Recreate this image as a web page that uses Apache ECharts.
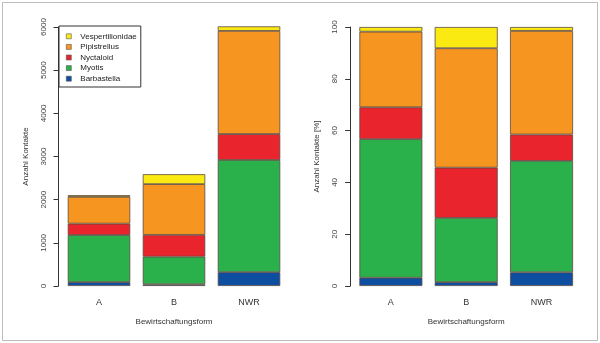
<!DOCTYPE html>
<html><head><meta charset="utf-8">
<script src="https://cdn.jsdelivr.net/npm/echarts@6/dist/echarts.min.js"></script>
<style>html,body{margin:0;padding:0;background:#fff}#c{width:600px;height:343px}</style>
</head><body><div id="c"></div>
<script>
var categories = ['A', 'B', 'NWR'];
var seriesNames = ['Barbastella', 'Myotis', 'Nyctaloid', 'Pipistrellus', 'Vespertilionidae'];
// counts (left panel)
var cntBarbastella = [90, 40, 320];
var cntMyotis = [1090, 640, 2600];
var cntNyctaloid = [265, 505, 600];
var cntPipistrellus = [620, 1175, 2390];
var cntVespertilionidae = [40, 230, 105];
// percentages (right panel)
var pctBarbastella = [3.2, 1.5, 5.3];
var pctMyotis = [53.5, 24.8, 43.0];
var pctNyctaloid = [12.3, 19.4, 10.2];
var pctPipistrellus = [29.2, 46.1, 40.0];
var pctVespertilionidae = [1.8, 8.2, 1.5];
var countTicks = [0, 1000, 2000, 3000, 4000, 5000, 6000];
var pctTicks = [0, 20, 40, 60, 80, 100];

var colors = ['#0d4ea1', '#2bb14c', '#e9242c', '#f6951f', '#fbe912'];
var cnt = [cntBarbastella, cntMyotis, cntNyctaloid, cntPipistrellus, cntVespertilionidae];
var pct = [pctBarbastella, pctMyotis, pctNyctaloid, pctPipistrellus, pctVespertilionidae];

var font = 'Liberation Sans, Arial, sans-serif';
function yAx(idx, ticks, name) {
  return {
    type: 'value', gridIndex: idx, min: ticks[0], max: ticks[ticks.length - 1],
    interval: ticks[1] - ticks[0], offset: 3,
    name: name, nameLocation: 'middle', nameGap: 29, nameRotate: 90,
    nameTextStyle: {fontSize: 8, color: '#333', fontFamily: font},
    axisLine: {show: true, lineStyle: {color: '#333', width: 1}},
    axisTick: {show: true, length: 5, lineStyle: {color: '#333', width: 1}},
    axisLabel: {rotate: 90, margin: 11, fontSize: 8, color: '#444', fontFamily: font,
      formatter: function (v) { return String(v); }},
    splitLine: {show: false}
  };
}
function xAx(idx) {
  return {
    type: 'category', gridIndex: idx, data: categories,
    name: 'Bewirtschaftungsform', nameLocation: 'middle', nameGap: 32,
    nameTextStyle: {fontSize: 8, color: '#333', fontFamily: font},
    axisLine: {show: false}, axisTick: {show: false},
    axisLabel: {margin: 12, fontSize: 9, color: '#333', fontFamily: font}
  };
}
var series = [];
for (var i = 0; i < seriesNames.length; i++) {
  series.push({name: seriesNames[i], type: 'bar', stack: 'cnt', xAxisIndex: 0, yAxisIndex: 0,
    data: cnt[i], barWidth: 62.5, clip: false,
    itemStyle: {color: colors[i], borderColor: '#5a4a40', borderWidth: 0.8}});
}
for (var j = 0; j < seriesNames.length; j++) {
  series.push({name: seriesNames[j], type: 'bar', stack: 'pct', xAxisIndex: 1, yAxisIndex: 1,
    data: pct[j], barWidth: 63, clip: false,
    itemStyle: {color: colors[j], borderColor: '#5a4a40', borderWidth: 0.8}});
}
var chart = echarts.init(document.getElementById('c'), null, {renderer: 'canvas'});
chart.setOption({
  animation: false,
  backgroundColor: '#fff',
  color: colors,
  grid: [
    {left: 61.5, width: 225, top: 27, bottom: 57, containLabel: false},
    {left: 353.2, width: 226, top: 27, bottom: 57, containLabel: false}
  ],
  xAxis: [xAx(0), xAx(1)],
  yAxis: [yAx(0, countTicks, 'Anzahl Kontakte'), yAx(1, pctTicks, 'Anzahl Kontakte [%]')],
  legend: {
    data: seriesNames.slice().reverse(),
    orient: 'vertical', left: 59, top: 26,
    padding: [5, 4, 3, 7], itemGap: 0, itemWidth: 5, itemHeight: 5,
    icon: 'rect',
    borderColor: '#333', borderWidth: 1, backgroundColor: '#fff',
    itemStyle: {borderColor: '#555', borderWidth: 0.6},
    textStyle: {fontSize: 8, color: '#222', fontFamily: font, lineHeight: 10.6, padding: [0, 0, 0, 4]},
    selectedMode: false
  },
  graphic: [{type: 'rect', shape: {x: 2.5, y: 2.5, width: 595, height: 338},
    style: {fill: 'none', stroke: '#bdbdbd', lineWidth: 1}, silent: true, z: 100}],
  series: series
});
</script></body></html>
